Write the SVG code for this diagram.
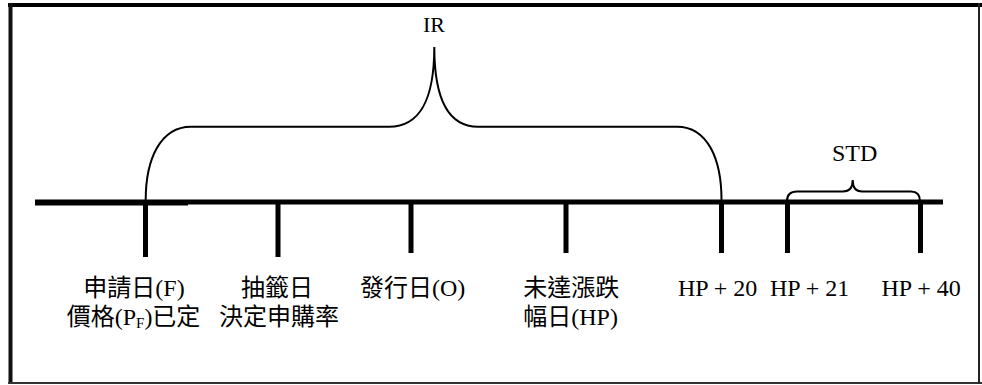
<svg xmlns="http://www.w3.org/2000/svg" width="982" height="385" viewBox="0 0 982 385">
  <style>
    .t { font-family: 'Liberation Serif', 'Noto Sans CJK TC', serif; font-size: 24px; fill: #000; }
    .tick { fill: #000; }
    .brace { fill: none; stroke: #000; stroke-width: 2; }
  </style>
  <rect x="0" y="0" width="982" height="385" fill="#fff"/>
  <g id="frame">
    <line x1="8" y1="5" x2="982" y2="5" stroke="#000" stroke-width="4"/>
    <line x1="10.5" y1="3" x2="10.5" y2="384" stroke="#111" stroke-width="4"/>
    <line x1="8" y1="383" x2="982" y2="383" stroke="#333" stroke-width="2"/>
    <line x1="979" y1="3" x2="979" y2="384" stroke="#222" stroke-width="2"/>
  </g>
  <g id="axis">
    <rect x="35" y="199.5" width="908" height="5" fill="#000"/>
    <rect x="35" y="202" width="153" height="3.5" fill="#000"/>
  </g>
  <g id="connectors">
    <path class="brace" d="M145.7,200 C145.7,160 160,126.7 191,126.7 L389,126.7 C420,126.7 434.3,100 434.3,47 C434.3,100 449,126.7 478,126.7 L677,126.7 C708,126.7 721.5,160 721.5,200"/>
    <path class="brace" d="M787,201 C787,195 790,191.5 797,191.5 L843,191.5 C849,191.5 852.7,188 852.7,180 C852.7,188 856,191.5 862,191.5 L911,191.5 C917,191.5 920,195 920,201"/>
  </g>
  <g id="label-IR"><text class="t" x="434" y="31.5" text-anchor="middle" style="font-size:22px">IR</text></g>
  <g id="label-STD"><text class="t" x="832" y="161">STD</text></g>
  <g id="node-F">
    <rect class="tick" x="143" y="202" width="5" height="55"/>
    <text class="t" x="83.3" y="296">申請日(F)</text>
    <text class="t" x="66.7" y="325">價格(P<tspan style="font-size:15px" dy="3">F</tspan><tspan dy="-3">)已定</tspan></text>
  </g>
  <g id="node-lottery">
    <rect class="tick" x="275.5" y="202" width="5" height="55"/>
    <text class="t" x="277" y="296" text-anchor="middle">抽籤日</text>
    <text class="t" x="279" y="325" text-anchor="middle">決定申購率</text>
  </g>
  <g id="node-O">
    <rect class="tick" x="408.5" y="202" width="5" height="51"/>
    <text class="t" x="360" y="296">發行日(O)</text>
  </g>
  <g id="node-HP">
    <rect class="tick" x="563.5" y="202" width="5" height="51"/>
    <text class="t" x="523.3" y="296">未達漲跌</text>
    <text class="t" x="523.3" y="325">幅日(HP)</text>
  </g>
  <g id="node-HP20">
    <rect class="tick" x="719" y="202" width="5" height="51"/>
    <text class="t" x="678" y="296">HP + 20</text>
  </g>
  <g id="node-HP21">
    <rect class="tick" x="785" y="202" width="5" height="51"/>
    <text class="t" x="770" y="296">HP + 21</text>
  </g>
  <g id="node-HP40">
    <rect class="tick" x="918" y="202" width="5" height="51"/>
    <text class="t" x="881.5" y="296">HP + 40</text>
  </g>
</svg>
